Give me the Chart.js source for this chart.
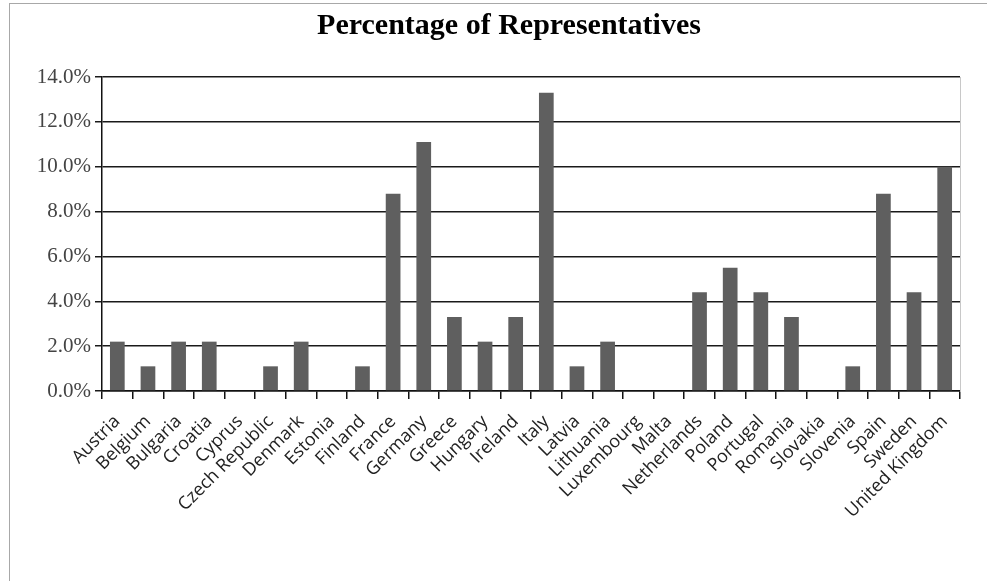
<!DOCTYPE html>
<html>
<head>
<meta charset="utf-8">
<script src="https://cdn.jsdelivr.net/npm/chart.js@4"></script>
<style>
  html, body { margin: 0; padding: 0; background: #fff; }
  #wrap { position: relative; width: 987px; height: 581px; overflow: hidden; }
  #frame { position: absolute; left: 9px; top: 3px; width: 1000px; height: 600px;
           border-left: 1px solid #a8a8a8; border-top: 1px solid #a8a8a8; }
  canvas { position: absolute; left: 0; top: 0; }
</style>
</head>
<body>
<div id="wrap">
  <div id="frame"></div>
  <canvas id="repChart" width="987" height="581"></canvas>
</div>
<script>
const countries = ['Austria', 'Belgium', 'Bulgaria', 'Croatia', 'Cyprus', 'Czech Republic', 'Denmark',
    'Estonia', 'Finland', 'France', 'Germany', 'Greece', 'Hungary', 'Ireland', 'Italy', 'Latvia',
    'Lithuania', 'Luxembourg', 'Malta', 'Netherlands', 'Poland', 'Portugal', 'Romania', 'Slovakia',
    'Slovenia', 'Spain', 'Sweden', 'United Kingdom'];

// percent of representatives per country
const percentages = [2.2, 1.1, 2.2, 2.2, 0, 1.1, 2.2,
    0, 1.1, 8.8, 11.1, 3.3, 2.2, 3.3, 13.3, 1.1,
    2.2, 0, 0, 4.4, 5.5, 4.4, 3.3, 0,
    1.1, 8.8, 4.4, 10.0];

const yTicks = [0, 2, 4, 6, 8, 10, 12, 14];

const ctx = document.getElementById('repChart').getContext('2d');

new Chart(ctx, {
    type: 'bar',
    data: {
        labels: countries,
        datasets: [{
            label: 'Percentage of Representatives',
            data: percentages,
            backgroundColor: '#5f5f5f',
            borderWidth: 0,
            barPercentage: 0.48,
            categoryPercentage: 1.0
        }]
    },
    options: {
        responsive: false,
        animation: false,
        layout: { padding: { left: 31, right: 0, top: 0, bottom: 0 } },
        plugins: {
            legend: { display: false },
            tooltip: { enabled: false },
            title: {
                display: true,
                text: 'Percentage of Representatives',
                color: '#000',
                font: { family: '"Liberation Serif", "Times New Roman", serif', size: 30, weight: 'bold' },
                padding: { top: 8, bottom: 33 }
            }
        },
        scales: {
            x: {
                offset: true,
                grid: {
                    drawOnChartArea: false,
                    drawTicks: true,
                    tickLength: 8,
                    color: '#111',
                    lineWidth: 1.5
                },
                border: { color: '#111', width: 1.5 },
                ticks: {
                    autoSkip: false,
                    minRotation: 45,
                    maxRotation: 45,
                    padding: 12,
                    color: '#222',
                    font: { family: '"Open Sans", "Noto Sans", sans-serif', size: 18 }
                },
                afterFit(scale) { scale.height = 190; }
            },
            y: {
                min: 0,
                max: 14,
                afterBuildTicks(scale) { scale.ticks = yTicks.map(v => ({ value: v })); },
                grid: {
                    color: '#1a1a1a',
                    lineWidth: 1.5,
                    tickLength: 7
                },
                border: { color: '#111', width: 1.5 },
                ticks: {
                    padding: 4,
                    color: '#444',
                    font: { family: '"Liberation Serif", "Times New Roman", serif', size: 21 },
                    callback: v => v.toFixed(1) + '%'
                },
                afterFit(scale) { scale.width = 71; }
            },
            // right frame line of the plot area
            yRight: {
                position: 'right',
                min: 0,
                max: 14,
                grid: { drawOnChartArea: false, drawTicks: false, tickLength: 0 },
                border: { color: '#c8c8c8', width: 1 },
                ticks: { display: false },
                afterFit(scale) { scale.width = 27; }
            }
        }
    }
});
</script>
</body>
</html>
